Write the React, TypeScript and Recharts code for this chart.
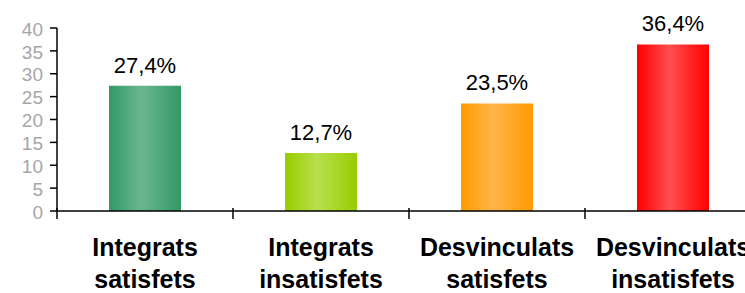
// App.tsx

import { BarChart, Bar, XAxis, YAxis, Cell, LabelList } from "recharts";

const categories = [
  ["Integrats", "satisfets"],
  ["Integrats", "insatisfets"],
  ["Desvinculats", "satisfets"],
  ["Desvinculats", "insatisfets"],
];
const values = [27.4, 12.7, 23.5, 36.4];
const yTicks = [0, 5, 10, 15, 20, 25, 30, 35, 40];

// edge colour, middle highlight
const palette = [
  ["#339966", "#6bb690"],
  ["#99cc00", "#b9e04c"],
  ["#ff9900", "#ffb64a"],
  ["#ff0000", "#ff4f4f"],
];

const data = values.map((v, i) => ({ name: categories[i].join(" "), value: v }));

const FONT = "Arial, 'Liberation Sans', sans-serif";

const CategoryTick = ({ x, y, payload, index }: any) => {
  const lines = categories[index] ?? [payload.value];
  const half = payload?.offset || 88;
  return (
    <g>
      <line x1={x - half} y1={y - 11} x2={x - half} y2={y} stroke="#000" strokeWidth={1.5} />
      <text
        x={x}
        y={y}
        textAnchor="middle"
        fontFamily={FONT}
        fontWeight="bold"
        fontSize={25}
        fill="#000"
      >
        <tspan x={x} dy={37}>{lines[0]}</tspan>
        <tspan x={x} dy={32}>{lines[1]}</tspan>
      </text>
    </g>
  );
};

export default function App() {
  return (
    <div
      style={{
        position: "fixed",
        left: 0,
        top: 0,
        width: 745,
        height: 293,
        overflow: "hidden",
        background: "#fff",
      }}
    >
      <BarChart
        width={761}
        height={293}
        data={data}
        margin={{ top: 28, right: 0, left: 0, bottom: 0 }}
        barCategoryGap={0}
      >
        <defs>
          {palette.map(([edge, mid], i) => (
            <linearGradient key={i} id={`grad-${i}`} x1="0" y1="0" x2="1" y2="0">
              <stop offset="0%" stopColor={edge} />
              <stop offset="45%" stopColor={mid} />
              <stop offset="100%" stopColor={edge} />
            </linearGradient>
          ))}
        </defs>
        <XAxis
          dataKey="name"
          height={82}
          axisLine={{ stroke: "#000", strokeWidth: 1.5 }}
          tickLine={false}
          interval={0}
          tick={<CategoryTick />}
        />
        <YAxis
          width={57}
          domain={[0, 40]}
          ticks={yTicks}
          interval={0}
          axisLine={{ stroke: "#000", strokeWidth: 1.5 }}
          tickLine={{ stroke: "#000", strokeWidth: 1.5 }}
          tickSize={7}
          tickMargin={7}
          tick={{ fill: "#a6a6a6", fontSize: 19, fontFamily: FONT, dy: 1 }}
        />
        <Bar dataKey="value" barSize={72} isAnimationActive={false}>
          {data.map((_, i) => (
            <Cell key={i} fill={`url(#grad-${i})`} />
          ))}
          <LabelList
            dataKey="value"
            position="top"
            offset={13}
            formatter={(v: any) => `${Number(v).toFixed(1).replace(".", ",")}%`}
            style={{ fill: "#000", fontSize: 22, fontFamily: FONT }}
          />
        </Bar>
      </BarChart>
    </div>
  );
}
